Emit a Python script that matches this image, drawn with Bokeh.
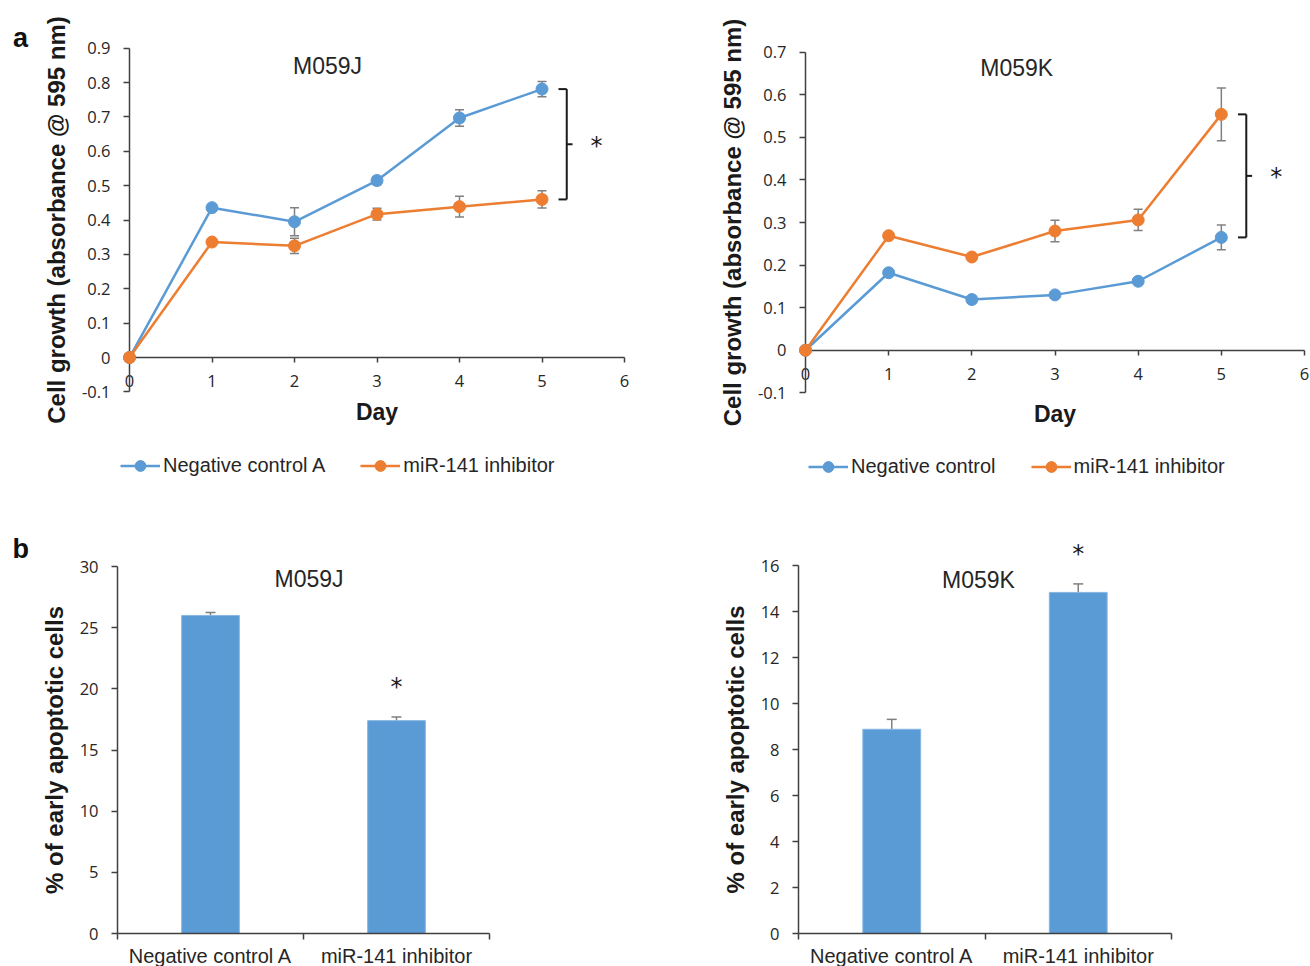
from bokeh.plotting import figure
from bokeh.layouts import row, column
from bokeh.models import (Range1d, FixedTicker, CustomJSTickFormatter, Whisker, TeeHead,
                          ColumnDataSource, Legend, LegendItem)
from bokeh.core.properties import value
from bokeh.embed import file_html
from bokeh.resources import INLINE

# ---------------- data ----------------
days = [0, 1, 2, 3, 4, 5]
x_ticks = [0, 1, 2, 3, 4, 5, 6]

# panel a, M059J
j_neg = [0, 0.436, 0.395, 0.515, 0.697, 0.781]
j_neg_err = [0, 0.003, 0.041, 0.012, 0.024, 0.022]
j_inh = [0, 0.336, 0.325, 0.417, 0.439, 0.460]
j_inh_err = [0, 0.003, 0.022, 0.017, 0.030, 0.025]
j_labels = ["Negative control A", "miR-141 inhibitor"]
y_ticks_j = [-0.1, 0, 0.1, 0.2, 0.3, 0.4, 0.5, 0.6, 0.7, 0.8, 0.9]

# panel a, M059K
k_neg = [0, 0.182, 0.119, 0.130, 0.162, 0.265]
k_neg_err = [0, 0.003, 0.008, 0.004, 0.004, 0.029]
k_inh = [0, 0.269, 0.219, 0.280, 0.306, 0.554]
k_inh_err = [0, 0.003, 0.003, 0.025, 0.025, 0.062]
k_labels = ["Negative control", "miR-141 inhibitor"]
y_ticks_k = [-0.1, 0, 0.1, 0.2, 0.3, 0.4, 0.5, 0.6, 0.7]

# panel b
groups = ["Negative control A", "miR-141 inhibitor"]
j_apop = [26.0, 17.4]
j_apop_err = [0.25, 0.30]
k_apop = [8.88, 14.83]
k_apop_err = [0.43, 0.37]
significant = [False, True]
bar_ticks_j = [0, 5, 10, 15, 20, 25, 30]
bar_ticks_k = [0, 2, 4, 6, 8, 10, 12, 14, 16]

# ---------------- style ----------------
BLUE = "#5B9BD5"
ORANGE = "#ED7D31"
ERR = "#808080"
AXC = "#404040"
TXT = "#262626"
TICKF = "Open Sans"
SANS = "Liberation Sans"


def fit_x(v0, v1, p0, p1, size):
    """Range whose value v0 sits at pixel p0 and v1 at p1 (from the left edge)."""
    k = (v1 - v0) / (p1 - p0)
    return Range1d(v0 - p0 * k, v0 + (size - p0) * k)


def fit_y(v0, v1, p0, p1, size):
    """Range whose value v0 sits at pixel p0 and v1 at p1 (from the top edge)."""
    k = (v1 - v0) / (p1 - p0)
    return Range1d(v0 + (size - p0) * k, v0 - p0 * k)


def base_fig(w, h, xr, yr, xb, yb):
    # the frame fills the whole canvas; axes are pinned to data positions
    p = figure(width=w, height=h, x_range=xr, y_range=yr,
               min_border_left=0, min_border_right=0, min_border_top=0, min_border_bottom=0,
               toolbar_location=None, output_backend="svg")
    p.outline_line_color = None
    p.grid.visible = False
    xa = p.xaxis[0]
    ya = p.yaxis[0]
    xa.fixed_location = yb[0] if yb[0] >= 0 else 0
    ya.fixed_location = xb[0]
    xa.bounds = xb
    ya.bounds = yb
    for ax in (xa, ya):
        ax.axis_line_color = AXC
        ax.axis_line_width = 1.5
        ax.major_tick_line_color = AXC
        ax.major_tick_line_width = 1.5
        ax.major_tick_in = 0
        ax.major_tick_out = 6
        ax.minor_tick_line_color = None
        ax.major_label_text_font = TICKF
        ax.major_label_text_font_size = "16.5px"
        ax.major_label_text_color = TXT
        ax.major_label_standoff = 13
        ax.axis_label_text_font = SANS
        ax.axis_label_text_font_style = "bold"
        ax.axis_label_text_font_size = "24px"
        ax.axis_label_text_color = "#1a1a1a"
        ax.axis_label_standoff = 9
    return p


def add_text(p, xs, ys, texts, size, bold=False, font=SANS, color=TXT, yoff=0):
    r = p.text(x=xs, y=ys, text=texts, text_font=value(font), text_font_size=value(size),
               text_font_style="bold" if bold else "normal", text_color=color,
               text_align="center", text_baseline="middle", y_offset=yoff)
    r.level = "overlay"
    return r


def series(p, xs, ys, es, color):
    src = ColumnDataSource(dict(x=xs, y=ys,
                                lo=[a - b for a, b in zip(ys, es)],
                                hi=[a + b for a, b in zip(ys, es)]))
    p.add_layout(Whisker(source=src, base="x", lower="lo", upper="hi",
                         line_color=ERR, line_width=1.5,
                         upper_head=TeeHead(size=9, line_color=ERR, line_width=1.5),
                         lower_head=TeeHead(size=9, line_color=ERR, line_width=1.5)))
    r1 = p.line("x", "y", source=src, line_color=color, line_width=2.5)
    r2 = p.scatter("x", "y", source=src, size=12, fill_color=color, line_color=color)
    r1.level = "overlay"
    r2.level = "overlay"
    return [r1, r2]


def growth(w, h, xpix, ypix, ymax, yticks, neg, neg_err, inh, inh_err,
           labels, title, tx, ty, legend_loc, tick_standoff, day_standoff, letter=None):
    xr = fit_x(0, 6, xpix[0], xpix[1], w)
    yr = fit_y(ymax, -0.1, ypix[0], ypix[1], h)
    p = base_fig(w, h, xr, yr, (0, 6), (-0.1, ymax))
    xa = p.xaxis[0]
    ya = p.yaxis[0]
    xa.fixed_location = 0
    xa.ticker = FixedTicker(ticks=x_ticks)
    xa.major_tick_out = 5
    xa.major_label_standoff = tick_standoff
    xa.axis_label = "Day"
    xa.axis_label_text_font_size = "23px"
    xa.axis_label_standoff = day_standoff
    ya.ticker = FixedTicker(ticks=yticks)
    ya.formatter = CustomJSTickFormatter(code="return Math.abs(tick) < 1e-9 ? '0' : tick.toFixed(1);")
    ya.axis_label = "Cell growth (absorbance @ 595 nm)"

    rn = series(p, days, neg, neg_err, BLUE)
    ri = series(p, days, inh, inh_err, ORANGE)

    # significance bracket between the day-5 means
    hi_v = max(neg[-1], inh[-1])
    lo_v = min(neg[-1], inh[-1])
    mid = (hi_v + lo_v) / 2
    seg = p.segment(x0=[5.2, 5.3, 5.2, 5.3], y0=[hi_v, hi_v, lo_v, mid],
                    x1=[5.3, 5.3, 5.3, 5.37], y1=[hi_v, lo_v, lo_v, mid],
                    line_color="#1a1a1a", line_width=2)
    seg.level = "overlay"
    add_text(p, [5.66], [mid], ["*"], "24px", font="DejaVu Sans", color="#1a1a1a", yoff=1.5)

    add_text(p, [tx], [ty], [title], "23px")
    if letter:
        add_text(p, [letter[0]], [letter[1]], [letter[2]], "27px", bold=True, color="#111111")

    leg = Legend(items=[LegendItem(label=labels[0], renderers=rn),
                        LegendItem(label=labels[1], renderers=ri)],
                 orientation="horizontal", location=legend_loc, padding=0, margin=0,
                 spacing=35, glyph_width=40, glyph_height=27, label_standoff=3,
                 label_text_font=SANS, label_text_font_size="20px", label_text_color=TXT,
                 border_line_color=None, background_fill_alpha=0)
    p.add_layout(leg)
    return p


def bars(w, h, xpix, ypix, ymax, yticks, vals, errs, title, tx, ty, letter=None):
    n = len(groups)
    xr = fit_x(0, n, xpix[0], xpix[1], w)
    yr = fit_y(ymax, 0, ypix[0], ypix[1], h)
    p = base_fig(w, h, xr, yr, (0, n), (0, ymax))
    xa = p.xaxis[0]
    ya = p.yaxis[0]
    bx = [i + 0.5 for i in range(n)]
    xa.ticker = FixedTicker(ticks=bx, minor_ticks=list(range(n + 1)))
    xa.major_label_overrides = {b: g for b, g in zip(bx, groups)}
    xa.major_tick_out = 0
    xa.minor_tick_in = 0
    xa.minor_tick_out = 6
    xa.minor_tick_line_color = AXC
    xa.minor_tick_line_width = 1.5
    xa.major_label_text_font = SANS
    xa.major_label_text_font_size = "20px"
    xa.major_label_standoff = 5
    ya.ticker = FixedTicker(ticks=yticks)
    ya.axis_label = "% of early apoptotic cells"

    src = ColumnDataSource(dict(x=bx, top=vals,
                                lo=[v - e for v, e in zip(vals, errs)],
                                hi=[v + e for v, e in zip(vals, errs)]))
    p.vbar(x="x", top="top", width=0.31, source=src, fill_color=BLUE,
           line_color="#86B6E2", line_width=1)
    p.add_layout(Whisker(source=src, base="x", lower="lo", upper="hi",
                         line_color=ERR, line_width=1.5,
                         upper_head=TeeHead(size=10, line_color=ERR, line_width=1.5),
                         lower_head=TeeHead(size=10, line_color=ERR, line_width=1.5)))
    sx = [x for x, s in zip(bx, significant) if s]
    sy = [v + e for v, e, s in zip(vals, errs, significant) if s]
    add_text(p, sx, sy, ["*"] * len(sx), "24px", font="DejaVu Sans", color="#1a1a1a", yoff=-30)
    add_text(p, [tx], [ty], [title], "23px")
    if letter:
        add_text(p, [letter[0]], [letter[1]], [letter[2]], "27px", bold=True, color="#111111")
    return p


p1 = growth(663, 500, (129, 624), (47.7, 391.4), 0.9, y_ticks_j, j_neg, j_neg_err, j_inh, j_inh_err,
            j_labels, "M059J", 2.4, 0.849, (120, 21.5), 12, 9, letter=(-1.32, 0.931, "a"))
p2 = growth(647, 500, (142, 641), (51.7, 392.3), 0.7, y_ticks_k, k_neg, k_neg_err, k_inh, k_inh_err,
            k_labels, "M059K", 2.54, 0.664, (145, 20.5), 13, 17)
p3 = bars(663, 466, (117, 489), (66, 433), 30, bar_ticks_j, j_apop, j_apop_err, "M059J", 1.03, 29.0,
          letter=(-0.52, 31.47, "b"))
p4 = bars(647, 466, (135, 508), (65, 433), 16, bar_ticks_k, k_apop, k_apop_err, "M059K", 0.965, 15.35)

layout = column(row(p1, p2), row(p3, p4))
open("out.html", "w").write(file_html(layout, INLINE))
